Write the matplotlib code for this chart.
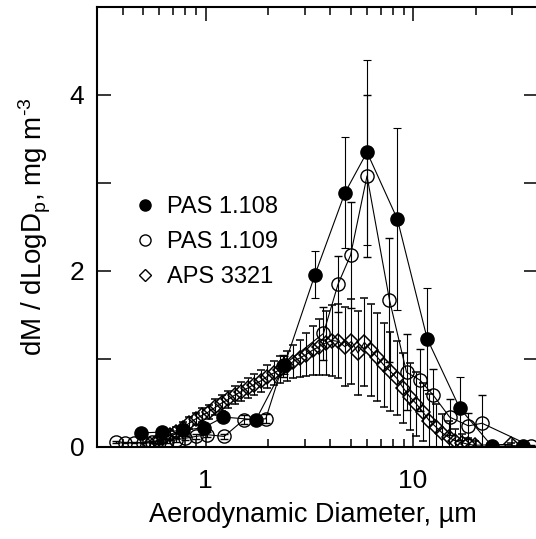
import matplotlib
matplotlib.use("Agg")
import matplotlib.pyplot as plt
from matplotlib.lines import Line2D
from matplotlib.ticker import NullFormatter

plt.rcParams["font.family"] = ["Liberation Sans", "DejaVu Sans"]
plt.rcParams["mathtext.default"] = "regular"

# PAS 1.108 (filled circles)
pas108_d = [0.49, 0.62, 0.78, 0.98, 1.22, 1.75, 2.4, 3.37, 4.7, 6.0, 8.4, 11.7, 16.8, 24.0, 34.0]
pas108_m = [0.16, 0.17, 0.19, 0.22, 0.34, 0.31, 0.93, 1.96, 2.89, 3.35, 2.59, 1.23, 0.44, 0.01, 0.01]
pas108_e = [0.02, 0.02, 0.03, 0.03, 0.04, 0.04, 0.10, 0.27, 0.63, 1.05, 1.03, 0.58, 0.36, 0.01, 0.01]

# PAS 1.109 (open circles)
pas109_d = [0.37, 0.41, 0.45, 0.50, 0.55, 0.60, 0.65, 0.72, 0.80, 0.90, 1.02, 1.23, 1.53, 1.95,
            2.35, 3.7, 4.35, 5.0, 6.0, 7.7, 9.3, 10.8, 12.5, 15.0, 18.5, 21.5, 37.0]
pas109_m = [0.06, 0.05, 0.05, 0.05, 0.06, 0.06, 0.07, 0.08, 0.10, 0.12, 0.14, 0.12, 0.31, 0.32,
            0.92, 1.29, 1.85, 2.18, 3.08, 1.67, 0.85, 0.76, 0.59, 0.34, 0.24, 0.27, 0.01]
pas109_e = [0.01, 0.01, 0.01, 0.01, 0.01, 0.02, 0.02, 0.02, 0.02, 0.03, 0.03, 0.03, 0.05, 0.05,
            0.12, 0.30, 0.32, 0.60, 0.92, 0.70, 0.43, 0.35, 0.30, 0.20, 0.15, 0.32, 0.01]

# APS 3321 (diamonds)
aps_d = [0.542, 0.583, 0.626, 0.673, 0.723, 0.777, 0.835, 0.898, 0.965, 1.037, 1.114, 1.197,
         1.286, 1.382, 1.486, 1.596, 1.715, 1.843, 1.981, 2.129, 2.288, 2.458, 2.642, 2.839,
         3.051, 3.278, 3.523, 3.786, 4.068, 4.371, 4.698, 5.048, 5.425, 5.829, 6.264, 6.732,
         7.234, 7.774, 8.354, 8.977, 9.647, 10.37, 11.14, 11.97, 12.86, 13.82, 14.86, 15.96,
         17.15, 18.43, 19.81, 29.5]
aps_m = [0.03, 0.07, 0.10, 0.14, 0.17, 0.22, 0.27, 0.32, 0.36, 0.40, 0.45, 0.50,
         0.54, 0.59, 0.63, 0.67, 0.71, 0.75, 0.80, 0.84, 0.88, 0.92, 0.97, 1.01,
         1.05, 1.10, 1.14, 1.18, 1.21, 1.20, 1.14, 1.20, 1.07, 1.19, 1.10, 1.02,
         0.93, 0.86, 0.78, 0.67, 0.57, 0.49, 0.40, 0.30, 0.23, 0.16, 0.11, 0.07,
         0.05, 0.03, 0.02, 0.03]
aps_e = [0.03, 0.04, 0.05, 0.05, 0.06, 0.06, 0.07, 0.07, 0.08, 0.08, 0.09, 0.09,
         0.10, 0.10, 0.11, 0.11, 0.12, 0.12, 0.13, 0.14, 0.15, 0.17, 0.19, 0.21,
         0.24, 0.28, 0.32, 0.36, 0.40, 0.42, 0.45, 0.48, 0.48, 0.50, 0.52, 0.50,
         0.48, 0.45, 0.42, 0.40, 0.38, 0.36, 0.33, 0.30, 0.26, 0.22, 0.18, 0.14,
         0.10, 0.07, 0.05, 0.02]

fig = plt.figure(figsize=(5.36, 5.39), dpi=100)
ax = fig.add_axes([97 / 536, 1 - 447 / 539, 441 / 536, 440 / 539])

common = dict(color="black", lw=0.8, elinewidth=0.8, capsize=3, capthick=0.8)
ax.errorbar(aps_d, aps_m, yerr=aps_e, fmt="-D", ms=7.5, mfc="none", mec="black",
            mew=1.1, zorder=2, **common)
ax.errorbar(pas109_d, pas109_m, yerr=pas109_e, fmt="-o", ms=9.5, mfc="none", mec="black",
            mew=1.0, zorder=3, **common)
ax.errorbar(pas108_d, pas108_m, yerr=pas108_e, fmt="-o", ms=9.5, mfc="black", mec="black",
            zorder=4, **common)

ax.set_xscale("log")
ax.set_xlim(0.3, 40)
ax.set_ylim(0, 5)
ax.set_xticks([1, 10])
ax.set_xticklabels(["1", "10"])
ax.xaxis.set_minor_formatter(NullFormatter())
ax.set_yticks([0, 2, 4])
ax.set_yticks([1, 3], minor=True)

for s in ax.spines.values():
    s.set_linewidth(1.5)
ax.tick_params(which="both", direction="in", top=True, right=True, width=1.1, labelsize=19)
ax.tick_params(which="major", length=10, pad=9)
ax.tick_params(axis="x", which="major", pad=16)
ax.tick_params(which="minor", length=6)
ax.tick_params(axis="y", which="minor", length=10)

ax.set_xlabel("Aerodynamic Diameter, µm", fontsize=19.5)
ax.set_ylabel("dM / dLogD$_p$, mg m$^{\u20103}$", fontsize=20)
ax.xaxis.set_label_coords(0.49, -0.125)
ax.yaxis.set_label_coords(-0.1, 0.5)

handles = [
    Line2D([], [], ls="none", marker="o", ms=8, mfc="black", mec="black"),
    Line2D([], [], ls="none", marker="o", ms=8, mfc="none", mec="black", mew=1.0),
    Line2D([], [], ls="none", marker="D", ms=6, mfc="none", mec="black", mew=1.0),
]
ax.legend(handles, ["PAS 1.108", "PAS 1.109", "APS 3321"], loc="upper left",
          bbox_to_anchor=(0.04, 0.618), frameon=False, fontsize=17,
          handlelength=0.8, handletextpad=0.5, labelspacing=0.55)

fig.savefig("out.png", dpi=100)
